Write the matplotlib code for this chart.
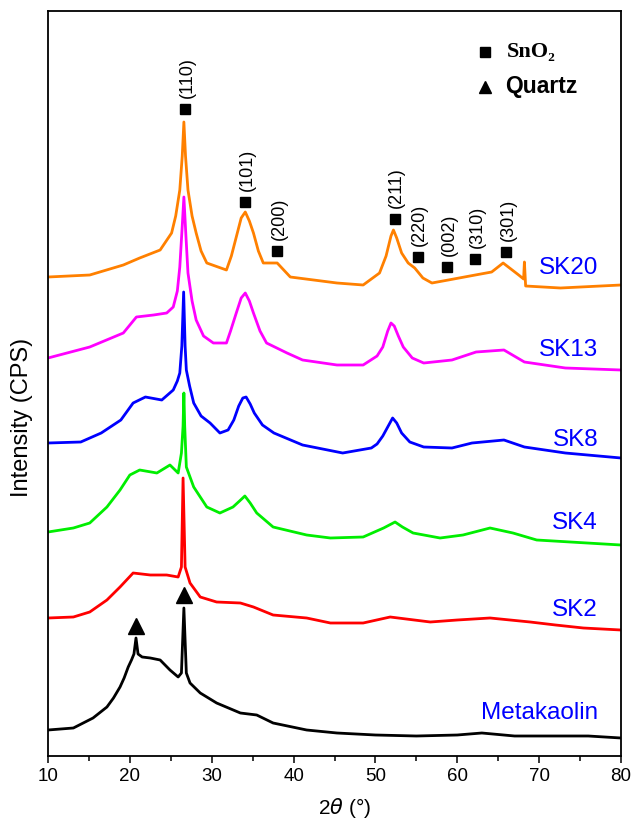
import numpy as np
import matplotlib
matplotlib.use("Agg")
import matplotlib.pyplot as plt

plt.rcParams['font.family'] = ['Liberation Sans', 'DejaVu Sans']

# 2theta / intensity (a.u.), curves already offset
mk_x = [10.0, 13.1, 15.5, 17.2, 18.0, 18.8, 19.3, 19.8, 20.2, 20.5, 20.75, 21.0, 21.5, 22.5, 23.7, 24.9,
        25.9, 26.3, 26.6, 26.9, 27.35, 28.6, 30.6, 33.5, 35.5, 37.5, 41.6, 45.3, 50, 55, 60, 63, 67, 72, 76, 80]
mk_y = [26, 28, 38, 49, 58, 69, 78, 89, 96, 102, 118, 102, 99, 98, 96, 86,
        79, 83, 148, 83, 73, 63, 53, 43, 41, 33, 26, 23, 21, 20, 21, 23, 20, 20, 20, 18]

sk2_x = [10.0, 13.1, 15.1, 17.2, 18.8, 20.4, 22.5, 24.5, 25.9, 26.3, 26.5, 26.75, 27.35, 28.6, 30.6, 33.5,
         35.1, 37.5, 41.6, 44.5, 48.5, 51.8, 56.7, 60, 64.0, 68.9, 72, 75.4, 80]
sk2_y = [138, 139, 144, 156, 169, 183, 181, 181, 179, 189, 278, 189, 173, 159, 154, 153,
         149, 141, 138, 133, 133, 139, 134, 136, 138, 134, 131, 128, 126]

sk4_x = [10.0, 13.1, 15.1, 17.2, 18.8, 20.0, 21.2, 23.3, 24.9, 25.9, 26.3, 26.5, 26.6, 26.7, 26.9, 27.8,
         29.4, 31.0, 32.6, 33.4, 34.05, 34.7, 35.5, 37.5, 41.6, 44.5, 48.5, 51.0, 52.4, 53.3, 54.6, 57.9,
         60.7, 64.0, 66.8, 69.7, 73.8, 80]
sk4_y = [224, 228, 233, 249, 266, 281, 286, 283, 291, 283, 303, 330, 363, 330, 289, 269,
         249, 243, 249, 255, 260, 253, 243, 229, 221, 218, 219, 228, 234, 229, 223, 218,
         221, 228, 223, 216, 214, 211]

sk8_x = [10.0, 14.0, 16.5, 18.9, 20.4, 21.9, 23.9, 25.3, 25.8, 26.1, 26.35, 26.57, 26.75, 26.9, 27.3, 27.8,
         28.7, 29.8, 31.0, 32.0, 32.7, 33.3, 33.8, 34.2, 34.7, 35.2, 36.2, 37.6, 41.1, 46.0, 49.5, 50.2,
         50.9, 51.5, 52.1, 52.6, 53.2, 54.2, 55.9, 59.35, 61.8, 65.7, 68.2, 73.2, 80]
sk8_y = [313, 314, 323, 336, 353, 359, 356, 366, 375, 383, 410, 464, 410, 386, 370, 353,
         340, 333, 323, 326, 336, 350, 358, 359, 352, 343, 331, 323, 311, 303, 308, 312,
         320, 329, 338, 333, 323, 314, 309, 308, 313, 316, 309, 303, 298]

sk13_x = [10.0, 15.1, 19.2, 20.8, 22.9, 24.5, 25.3, 25.8, 26.1, 26.4, 26.6, 26.85, 27.1, 27.6, 28.1, 29.0,
          30.2, 31.8, 32.3, 33.0, 33.6, 34.1, 34.6, 35.1, 35.9, 36.7, 39.2, 41.1, 45.3, 48.5, 50.2, 50.9,
          51.5, 51.9, 52.3, 52.8, 53.4, 54.5, 55.9, 59.35, 62.3, 65.7, 68.2, 73.2, 80]
sk13_y = [398, 409, 423, 439, 441, 443, 449, 465, 489, 530, 559, 520, 483, 455, 436, 420,
          413, 413, 425, 443, 458, 463, 455, 443, 425, 413, 403, 396, 391, 391, 400, 409,
          425, 433, 430, 420, 409, 398, 393, 396, 404, 406, 394, 388, 386]

sk20_x = [10.0, 15.1, 19.2, 21.2, 23.7, 25.1, 25.6, 26.1, 26.4, 26.6, 26.8, 27.1, 27.6, 28.1, 28.7, 29.4,
          31.8, 32.4, 33.0, 33.6, 34.1, 34.6, 35.1, 35.7, 36.3, 38.0, 39.6, 45.3, 48.5, 50.5, 51.3, 51.9,
          52.2, 52.6, 53.2, 54.0, 54.8, 55.8, 56.9, 58.9, 62.2, 64.2, 65.6, 67.5, 68.1, 68.2, 68.35, 72.6, 80]
sk20_y = [479, 481, 491, 498, 506, 523, 540, 566, 600, 634, 600, 566, 540, 523, 505, 493,
          486, 500, 519, 538, 544, 535, 523, 505, 493, 493, 479, 473, 471, 483, 500, 520,
          526, 518, 503, 493, 488, 478, 473, 476, 481, 484, 493, 481, 477, 494, 470, 468, 471]

samples = ['Metakaolin', 'SK2', 'SK4', 'SK8', 'SK13', 'SK20']
sample_y = [43, 146, 233, 316, 406, 488]

# SnO2 reflections
hkl = ['(110)', '(101)', '(200)', '(211)', '(220)', '(002)', '(310)', '(301)']
hkl_x = [26.76, 34.11, 38.0, 52.35, 55.16, 58.75, 62.21, 66.01]
hkl_y = [646.7, 554, 505.3, 537, 499.3, 489.3, 496.7, 504.3]

# quartz reflections
qz_x = [20.8, 26.57]
qz_y = [130, 161]

curves = [(mk_x, mk_y, 'black'), (sk2_x, sk2_y, '#ff0000'), (sk4_x, sk4_y, '#00ee00'),
          (sk8_x, sk8_y, '#0000ff'), (sk13_x, sk13_y, '#ff00ff'), (sk20_x, sk20_y, '#ff8000')]

fig = plt.figure(figsize=(6.33, 8.19), dpi=100)
ax = fig.add_axes([48 / 633, 1 - 756 / 819, 573 / 633, 745 / 819])

for x, y, c in curves:
    ax.plot(x, y, color=c, lw=2.0)

for name, y in zip(samples, sample_y):
    ax.text(77.2, y, name, color='#0000ff', fontsize=17.5, ha='right', va='center')

ax.plot(hkl_x, hkl_y, 's', color='black', ms=7)
for lab, x, y in zip(hkl, hkl_x, hkl_y):
    ax.annotate(lab, (x, y), xytext=(1.5, 8), textcoords='offset points',
                rotation=90, ha='center', va='bottom', fontsize=13)

ax.plot(qz_x, qz_y, '^', color='black', ms=11)

# legend drawn by hand
ax.plot([63.38], [704], 's', color='black', ms=7)
ax.plot([63.38], [669], '^', color='black', ms=8)
ax.text(66.1, 704, 'SnO₂', fontsize=16, fontweight='bold', va='center',
        family=['Liberation Serif', 'DejaVu Serif'])
ax.text(65.9, 669, 'Quartz', fontsize=16.5, fontweight='bold', va='center')

ax.set_xlim(10, 80)
ax.set_ylim(0, 745)
ax.set_xticks(np.arange(10, 81, 10))
ax.set_xticks(np.arange(15, 80, 10), minor=True)
ax.set_yticks([])
ax.tick_params(axis='x', which='major', direction='out', length=5, width=1.1, labelsize=13.5)
ax.tick_params(axis='x', which='minor', direction='out', length=3.5, width=1.1)
for s in ax.spines.values():
    s.set_linewidth(1.3)

ax.set_xlabel(r'2$\theta$ (°)', fontsize=15)
ax.xaxis.set_label_coords(0.517, -0.054)
ax.set_ylabel('Intensity (CPS)', fontsize=17)
ax.yaxis.set_label_coords(-0.026, 0.455)

fig.savefig('out.png', dpi=100)
